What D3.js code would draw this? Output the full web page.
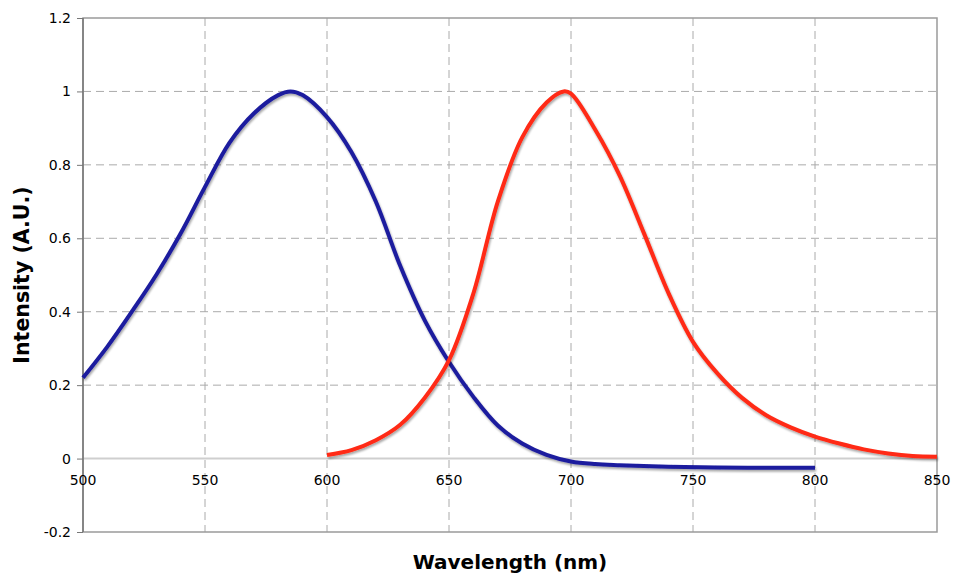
<!DOCTYPE html>
<html>
<head>
<meta charset="utf-8">
<script src="https://cdn.jsdelivr.net/npm/d3@7"></script>
<style>
  html, body { margin: 0; padding: 0; background: #fff; }
  svg { display: block; }
  text { font-family: "DejaVu Sans", Verdana, sans-serif; fill: #000; }
</style>
</head>
<body>
<svg id="chart" width="955" height="576"></svg>
<script>
// Emission spectra: wavelength (nm) and normalised intensity
const blueWavelength = [500, 510, 520, 530, 540, 550, 560, 570, 580, 585, 590, 600, 610, 620, 630, 640, 650, 660, 670, 680, 690, 700, 710, 720, 740, 760, 780, 800];
const blueIntensity  = [0.22, 0.305, 0.40, 0.50, 0.613, 0.74, 0.86, 0.94, 0.99, 1.0, 0.99, 0.93, 0.835, 0.70, 0.525, 0.377, 0.263, 0.168, 0.09, 0.041, 0.01, -0.008, -0.015, -0.018, -0.022, -0.024, -0.025, -0.025];

const redWavelength = [600, 610, 620, 630, 640, 650, 660, 670, 680, 690, 697, 700, 710, 720, 730, 740, 750, 760, 770, 780, 790, 800, 810, 820, 830, 840, 850];
const redIntensity  = [0.01, 0.023, 0.05, 0.092, 0.165, 0.268, 0.45, 0.70, 0.875, 0.97, 1.0, 0.994, 0.895, 0.77, 0.612, 0.45, 0.318, 0.232, 0.166, 0.118, 0.085, 0.06, 0.041, 0.025, 0.014, 0.007, 0.005];

const xTicks = [500, 550, 600, 650, 700, 750, 800, 850];
const yTicks = [-0.2, 0, 0.2, 0.4, 0.6, 0.8, 1, 1.2];

(function () {
const svg = d3.select("#chart");
const mLeft = 83, mRight = 937, mTop = 18, mBottom = 532;

const x = d3.scaleLinear().domain([500, 850]).range([mLeft, mRight]);
const y = d3.scaleLinear().domain([-0.2, 1.2]).range([mBottom, mTop]);

const defs = svg.append("defs");
const shadow = defs.append("filter").attr("id", "shadow")
  .attr("x", "-5%").attr("y", "-5%").attr("width", "110%").attr("height", "110%");
shadow.append("feGaussianBlur").attr("in", "SourceAlpha").attr("stdDeviation", 1.2).attr("result", "b");
shadow.append("feOffset").attr("in", "b").attr("dx", 1).attr("dy", 2).attr("result", "o");
shadow.append("feComponentTransfer").attr("in", "o").attr("result", "s")
  .append("feFuncA").attr("type", "linear").attr("slope", 0.35);
const merge = shadow.append("feMerge");
merge.append("feMergeNode").attr("in", "s");
merge.append("feMergeNode").attr("in", "SourceGraphic");

// Grid lines
const grid = svg.append("g");
grid.selectAll("line.vx")
  .data(xTicks.filter(d => d > 500 && d < 850))
  .join("line").attr("class", "vx")
  .attr("x1", d => x(d)).attr("x2", d => x(d))
  .attr("y1", mTop).attr("y2", mBottom)
  .attr("stroke", "#aaa").attr("stroke-width", 1).attr("stroke-dasharray", "8,5");
grid.selectAll("line.hy")
  .data(yTicks.filter(d => d > 0 && d < 1.2))
  .join("line").attr("class", "hy")
  .attr("x1", mLeft).attr("x2", mRight)
  .attr("y1", d => y(d)).attr("y2", d => y(d))
  .attr("stroke", "#aaa").attr("stroke-width", 1).attr("stroke-dasharray", "8,5");

// Zero baseline
svg.append("line")
  .attr("x1", mLeft).attr("x2", mRight)
  .attr("y1", y(0)).attr("y2", y(0))
  .attr("stroke", "#cfcfcf").attr("stroke-width", 2);

// Plot frame
svg.append("rect")
  .attr("x", mLeft).attr("y", mTop)
  .attr("width", mRight - mLeft).attr("height", mBottom - mTop)
  .attr("fill", "none").attr("stroke", "#9a9a9a").attr("stroke-width", 1.5);
svg.append("line")
  .attr("x1", mLeft).attr("x2", mLeft).attr("y1", mTop).attr("y2", mBottom)
  .attr("stroke", "#777").attr("stroke-width", 1.5);

// Y axis ticks and labels
const yAxis = d3.axisLeft(y).tickValues(yTicks).tickSize(6).tickPadding(6)
  .tickFormat(d => String(+d.toFixed(1)));
const gy = svg.append("g").attr("transform", `translate(${mLeft},0)`).call(yAxis);
gy.select(".domain").remove();
gy.selectAll(".tick line").attr("stroke", "#777");
gy.selectAll(".tick text").attr("font-size", 14).attr("fill", "#000")
  .style("font-family", "DejaVu Sans, Verdana, sans-serif");

// X tick labels sit beneath the zero line
svg.append("g").selectAll("text")
  .data(xTicks)
  .join("text")
  .attr("x", d => x(d)).attr("y", y(0) + 26)
  .attr("text-anchor", "middle")
  .attr("font-size", 14)
  .text(d => d);

// Spectra
const line = d3.line().x(d => x(d[0])).y(d => y(d[1])).curve(d3.curveCatmullRom.alpha(0.5));
const blue = blueWavelength.map((w, i) => [w, blueIntensity[i]]);
const red = redWavelength.map((w, i) => [w, redIntensity[i]]);

svg.append("path").datum(blue).attr("d", line)
  .attr("fill", "none").attr("stroke", "#1c1c9e").attr("stroke-width", 4)
  .attr("filter", "url(#shadow)");
svg.append("path").datum(red).attr("d", line)
  .attr("fill", "none").attr("stroke", "#ff2a14").attr("stroke-width", 4)
  .attr("filter", "url(#shadow)");

// Axis titles
svg.append("text")
  .attr("x", (mLeft + mRight) / 2).attr("y", 569)
  .attr("text-anchor", "middle")
  .attr("font-size", 20).attr("font-weight", "bold")
  .text("Wavelength (nm)");
svg.append("text")
  .attr("transform", "translate(29,275) rotate(-90)")
  .attr("text-anchor", "middle")
  .attr("font-size", 20.5).attr("font-weight", "bold")
  .text("Intensity (A.U.)");
})();
</script>
</body>
</html>
